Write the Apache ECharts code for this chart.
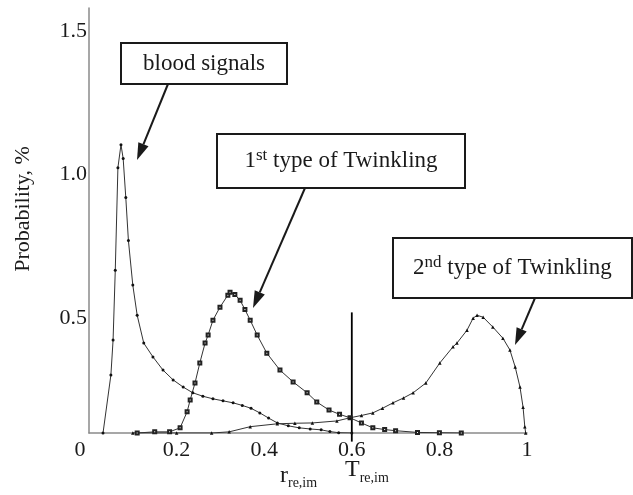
<!DOCTYPE html>
<html>
<head>
<meta charset="utf-8">
<script src="https://cdn.jsdelivr.net/npm/echarts@6/dist/echarts.min.js"></script>
<style>
  html, body { margin: 0; padding: 0; background: #fff; }
  #chart { width: 633px; height: 495px; }
</style>
</head>
<body>
<div id="chart"></div>
<script>
// x = r_re,im, y = probability, %
var bloodX = [0.032, 0.050, 0.055, 0.060, 0.066, 0.073, 0.078, 0.084, 0.090, 0.100, 0.110, 0.125, 0.146, 0.169, 0.192, 0.215, 0.237, 0.260, 0.283, 0.306, 0.329, 0.350, 0.370, 0.390, 0.410, 0.430, 0.455, 0.480, 0.505, 0.530, 0.550, 0.570, 0.600];
var bloodY = [0.100, 0.302, 0.424, 0.667, 1.024, 1.104, 1.056, 0.920, 0.770, 0.615, 0.510, 0.413, 0.365, 0.319, 0.285, 0.260, 0.240, 0.228, 0.219, 0.212, 0.205, 0.196, 0.186, 0.170, 0.152, 0.135, 0.125, 0.118, 0.114, 0.111, 0.105, 0.101, 0.100];

var twink1X = [0.110, 0.150, 0.184, 0.208, 0.224, 0.231, 0.242, 0.253, 0.265, 0.272, 0.283, 0.299, 0.317, 0.322, 0.333, 0.345, 0.356, 0.368, 0.384, 0.406, 0.436, 0.466, 0.498, 0.520, 0.548, 0.572, 0.596, 0.622, 0.648, 0.675, 0.700, 0.750, 0.800, 0.850];
var twink1Y = [0.100, 0.104, 0.104, 0.118, 0.174, 0.215, 0.274, 0.344, 0.413, 0.441, 0.493, 0.538, 0.580, 0.590, 0.582, 0.562, 0.530, 0.493, 0.441, 0.378, 0.319, 0.278, 0.240, 0.208, 0.180, 0.165, 0.153, 0.135, 0.118, 0.112, 0.108, 0.102, 0.101, 0.100];

var twink2X = [0.100, 0.200, 0.280, 0.320, 0.368, 0.430, 0.470, 0.510, 0.566, 0.596, 0.622, 0.648, 0.670, 0.694, 0.718, 0.740, 0.769, 0.801, 0.831, 0.840, 0.863, 0.877, 0.886, 0.900, 0.922, 0.945, 0.961, 0.973, 0.984, 0.991, 0.995, 0.997];
var twink2Y = [0.100, 0.100, 0.100, 0.104, 0.122, 0.132, 0.134, 0.135, 0.142, 0.153, 0.161, 0.170, 0.186, 0.205, 0.222, 0.240, 0.274, 0.344, 0.400, 0.413, 0.458, 0.500, 0.510, 0.503, 0.469, 0.430, 0.389, 0.330, 0.260, 0.190, 0.122, 0.100];

var thresholdX = 0.6;
var thresholdLine = [0.07, 0.52];

var xTicks = [0, 0.2, 0.4, 0.6, 0.8, 1];
var yTicks = [0.5, 1.0, 1.5];

function pairs(xs, ys) {
  return xs.map(function (x, i) { return [x, ys[i]]; });
}

var serif = 'Liberation Serif, DejaVu Serif, serif';
var ink = '#1a1a1a';

// arrow: shaft + filled head, for the callouts
function arrow(x1, y1, x2, y2) {
  var ang = Math.atan2(y2 - y1, x2 - x1);
  var len = 17, half = 5.5;
  var bx = x2 - len * Math.cos(ang), by = y2 - len * Math.sin(ang);
  var px = -Math.sin(ang) * half, py = Math.cos(ang) * half;
  return [
    { type: 'line', shape: { x1: x1, y1: y1, x2: bx, y2: by }, style: { stroke: ink, lineWidth: 2 } },
    { type: 'polygon', shape: { points: [[x2, y2], [bx + px, by + py], [bx - px, by - py]] }, style: { fill: ink } }
  ];
}

function box(x, y, w, h) {
  return { type: 'rect', shape: { x: x, y: y, width: w, height: h }, style: { fill: '#fff', stroke: ink, lineWidth: 2 } };
}

var richText = {
  m: { fontFamily: serif, fontSize: 23, lineHeight: 28, fill: ink },
  s: { fontFamily: serif, fontSize: 17, lineHeight: 17, padding: [0, 0, 11, 0], fill: ink }
};

var chart = echarts.init(document.getElementById('chart'));

var option = {
  backgroundColor: '#fff',
  animation: false,
  grid: { left: 89, right: 106, top: 8, bottom: 62, containLabel: false },
  xAxis: {
    type: 'value',
    min: 0, max: 1, interval: 0.2,
    axisLine: { lineStyle: { color: '#8a8a8a', width: 1.5 } },
    axisTick: { show: false },
    splitLine: { show: false },
    axisLabel: {
      margin: 6,
      fontFamily: serif, fontSize: 22, color: ink,
      customValues: xTicks,
      formatter: function (v) {
        if (v === 0) return '{z|0}';
        if (v === 1) return '1';
        return v.toFixed(1);
      },
      rich: { z: { fontFamily: serif, fontSize: 22, color: ink, padding: [0, 18, 0, 0] } }
    }
  },
  yAxis: {
    type: 'value',
    min: 0.1, max: 1.58,
    axisLine: { show: true, lineStyle: { color: '#8a8a8a', width: 1.5 } },
    axisTick: { show: false },
    splitLine: { show: false },
    axisLabel: {
      margin: 2,
      fontFamily: serif, fontSize: 22, color: ink,
      customValues: yTicks,
      formatter: function (v) { return v.toFixed(1); }
    }
  },
  series: [
    {
      name: 'blood signals', type: 'line', data: pairs(bloodX, bloodY),
      symbol: 'circle', symbolSize: 3, showSymbol: true,
      lineStyle: { color: '#333', width: 1 }, itemStyle: { color: '#111' }
    },
    {
      name: '1st type of Twinkling', type: 'line', data: pairs(twink1X, twink1Y),
      symbol: 'emptyRect', symbolSize: 3, showSymbol: true,
      lineStyle: { color: '#333', width: 1 }, itemStyle: { color: '#222', borderWidth: 1 }
    },
    {
      name: '2nd type of Twinkling', type: 'line', data: pairs(twink2X, twink2Y),
      symbol: 'triangle', symbolSize: 3.5, showSymbol: true,
      lineStyle: { color: '#333', width: 1 }, itemStyle: { color: '#111' }
    },
    {
      name: 'threshold', type: 'line', clip: false,
      data: [[thresholdX, thresholdLine[0]], [thresholdX, thresholdLine[1]]],
      symbol: 'none', lineStyle: { color: '#000', width: 1.8 }
    }
  ],
  graphic: [
    // y axis title
    {
      type: 'text', x: 23, y: 209, rotation: Math.PI / 2,
      style: { text: 'Probability, %', fontFamily: serif, fontSize: 22, fill: ink, align: 'center', verticalAlign: 'middle' }
    },
    // x axis sub labels
    {
      type: 'text', x: 280, y: 463,
      style: {
        text: '{m|r}{b|re,im}',
        rich: {
          m: { fontFamily: serif, fontSize: 24, lineHeight: 26, fill: ink },
          b: { fontFamily: serif, fontSize: 14, lineHeight: 14, padding: [14, 0, 0, 0], fill: ink }
        }
      }
    },
    {
      type: 'text', x: 345, y: 457,
      style: {
        text: '{m|T}{b|re,im}',
        rich: {
          m: { fontFamily: serif, fontSize: 24, lineHeight: 26, fill: ink },
          b: { fontFamily: serif, fontSize: 14, lineHeight: 14, padding: [16, 0, 0, 0], fill: ink }
        }
      }
    },
    // callouts
    box(121, 43, 166, 41),
    { type: 'text', x: 204, y: 64, style: { text: 'blood signals', fontFamily: serif, fontSize: 23, fill: ink, align: 'center', verticalAlign: 'middle' } },
    box(217, 134, 248, 54),
    { type: 'text', x: 341, y: 161, style: { text: '{m|1}{s|st}{m| type of Twinkling}', rich: richText, align: 'center', verticalAlign: 'middle' } },
    box(393, 238, 239, 60),
    { type: 'text', x: 413, y: 268, style: { text: '{m|2}{s|nd}{m| type of Twinkling}', rich: richText, align: 'left', verticalAlign: 'middle' } }
  ]
    .concat(arrow(168, 84, 137, 160))
    .concat(arrow(305, 188, 253, 308))
    .concat(arrow(535, 298, 515, 345))
};

chart.setOption(option);
</script>
</body>
</html>
